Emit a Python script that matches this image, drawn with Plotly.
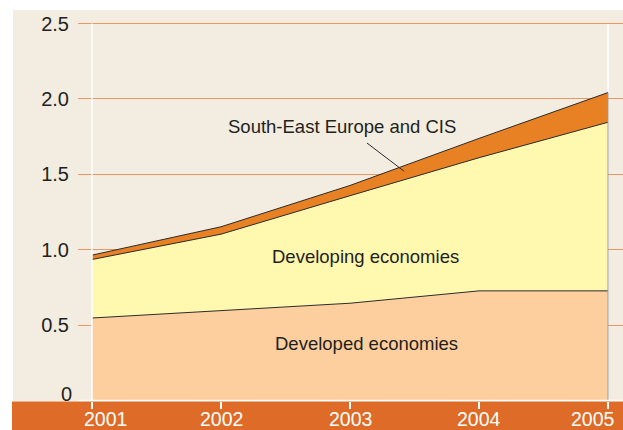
import plotly.graph_objects as go

# Years and stacked series (values in the chart's units)
years = [2001, 2002, 2003, 2004, 2005]
developed = [0.547, 0.594, 0.645, 0.727, 0.727]
developing = [0.388, 0.509, 0.713, 0.883, 1.118]
see_cis = [0.029, 0.049, 0.068, 0.128, 0.197]

y_tickvals = [0.5, 1.0, 1.5, 2.0, 2.5]
y_ticktext = ["0.5", "1.0", "1.5", "2.0", "2.5"]
x_ticktext = ["2001", "2002", "2003", "2004", "2005"]

BEIGE = "#f2ece1"
GRID = "#ec9565"
BAND = "#de6b27"
FONT = "Liberation Sans, Arial, Helvetica, sans-serif"
TEXT = "#231f20"

fig = go.Figure()

series = [
    ("Developed economies", developed, "#fdcf9e"),
    ("Developing economies", developing, "#fff8ae"),
    ("South-East Europe and CIS", see_cis, "#e88024"),
]
for name, vals, color in series:
    fig.add_trace(go.Scatter(
        x=years, y=vals, name=name, mode="lines",
        stackgroup="one", fillcolor=color,
        line=dict(color="#2b2b2b", width=1),
        hoverinfo="skip",
    ))

total = [a + b + c for a, b, c in zip(developed, developing, see_cis)]

# Pixel geometry of the plotting area
px_per_unit = 150.8
plot_h = 391
y0 = -0.5 / px_per_unit
y1 = y0 + plot_h / px_per_unit
px_per_year = 129.0
x0 = years[0] - 14 / px_per_year
x1 = years[-1] + 15 / px_per_year

shapes = [
    # beige panel left of the plotting area
    dict(type="rect", xref="paper", yref="paper", x0=-65 / 545, x1=1, y0=0, y1=1,
         fillcolor=BEIGE, line=dict(width=0), layer="below"),
    # orange band under the x axis
    dict(type="rect", xref="paper", yref="paper", x0=-66 / 545, x1=1,
         y0=-29 / plot_h, y1=-0.5 / plot_h,
         fillcolor=BAND, line=dict(width=0), layer="below"),
    # white frame lines at first and last year
    dict(type="line", xref="x", yref="y", x0=years[0], x1=years[0], y0=0, y1=2.5,
         line=dict(color="white", width=1.5), layer="above"),
    dict(type="line", xref="x", yref="y", x0=years[-1], x1=years[-1], y0=0, y1=2.5,
         line=dict(color="white", width=1.5), layer="below"),
    # right edge of the stacked areas
    dict(type="line", xref="x", yref="y", x0=years[-1], x1=years[-1], y0=0, y1=total[-1],
         line=dict(color="#9a9a9a", width=1), layer="above"),
    # white base line
    dict(type="line", xref="paper", yref="y", x0=0, x1=1, y0=0, y1=0,
         line=dict(color="white", width=1.5), layer="above"),
]

# leader from the SEE/CIS label into its band
lead_x = 2003.42
frac = lead_x - 2003
dev_top = (developed[2] + developing[2]) * (1 - frac) + (developed[3] + developing[3]) * frac
tot_at = total[2] * (1 - frac) + total[3] * frac
lead_y = dev_top + 0.6 * (tot_at - dev_top)

annotations = [
    dict(x=2002.94, y=1.82, text="South-East Europe and CIS", showarrow=False,
         font=dict(family=FONT, size=18.5, color=TEXT)),
    dict(x=lead_x, y=lead_y, ax=2003.12, ay=1.715, axref="x", ayref="y",
         text="", showarrow=True, arrowhead=0, arrowwidth=1, arrowcolor="#2b2b2b"),
    dict(x=2003.12, y=0.955, text="Developing economies", showarrow=False,
         font=dict(family=FONT, size=18.5, color=TEXT)),
    dict(x=2003.13, y=0.375, text="Developed economies", showarrow=False,
         font=dict(family=FONT, size=18.5, color=TEXT)),
    dict(xref="paper", x=0, y=0, yshift=7, xshift=-4, xanchor="right", text="0",
         showarrow=False, font=dict(family=FONT, size=20, color=TEXT)),
]
# year labels inside the orange band; the end labels are kept inside the frame
n = len(years)
for i, (yr, lab) in enumerate(zip(years, x_ticktext)):
    if i == 0:
        anchor, shift = "left", -10
    elif i == n - 1:
        anchor, shift = "right", 9
    else:
        anchor, shift = "center", 0
    annotations.append(dict(
        x=yr, xref="x", yref="paper", y=-17.5 / plot_h, yanchor="middle",
        xanchor=anchor, xshift=shift,
        text=lab, showarrow=False,
        font=dict(family=FONT, size=19.5, color="white"),
    ))

fig.update_layout(
    width=623, height=430, autosize=False,
    margin=dict(l=78, r=0, t=10, b=29, pad=0, autoexpand=False),
    paper_bgcolor="white", plot_bgcolor=BEIGE,
    showlegend=False,
    shapes=shapes, annotations=annotations,
    font=dict(family=FONT, color=TEXT),
    xaxis=dict(range=[x0, x1], tickvals=years, showticklabels=False,
               showgrid=False, zeroline=False, showline=False, automargin=False,
               ticks="outside", ticklen=7, tickwidth=1.5, tickcolor="white"),
    yaxis=dict(range=[y0, y1], tickvals=y_tickvals, ticktext=y_ticktext,
               showgrid=True, gridcolor=GRID, gridwidth=1.3,
               zeroline=False, showline=False, automargin=False,
               ticks="outside", ticklen=4, tickcolor="rgba(0,0,0,0)",
               tickfont=dict(family=FONT, size=20, color=TEXT)),
)

fig.write_html("out.html")
